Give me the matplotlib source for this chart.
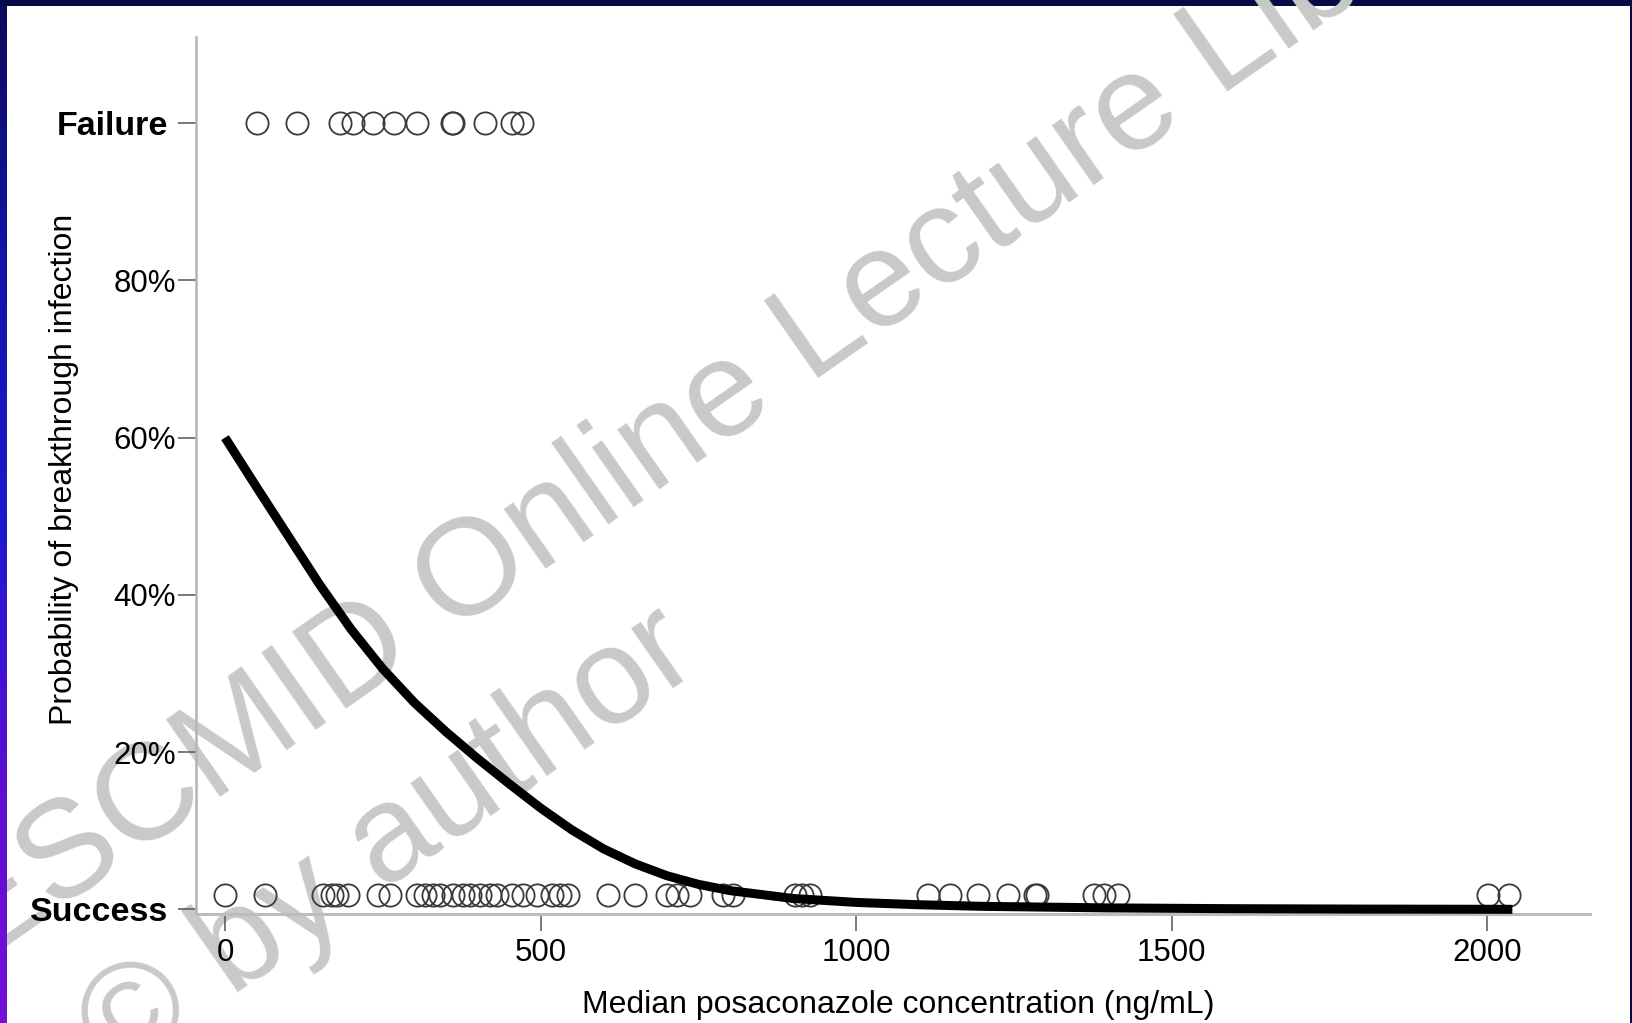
import matplotlib.pyplot as plt
import numpy as np
from matplotlib.patches import Rectangle
from matplotlib.colors import LinearSegmentedColormap
from matplotlib.transforms import ScaledTranslation

plt.rcParams['font.family'] = ['Liberation Sans', 'DejaVu Sans']

# observed outcomes (median posaconazole concentration, ng/mL)
failure_conc = [50, 114, 182, 203, 235, 267, 304, 359, 361, 412, 454, 470]
success_conc = [0, 64, 155, 170, 177, 195, 242, 261, 304, 317, 330, 341, 361,
                377, 388, 404, 420, 431, 455, 472, 494, 518, 531, 543, 607,
                650, 700, 716, 737, 789, 805, 903, 914, 927, 1114, 1149, 1193,
                1240, 1283, 1286, 1377, 1393, 1415, 2001, 2034]
failure_level = 1.0
success_level = 0.0185

# fitted probability curve
curve_conc = [0, 50, 100, 150, 200, 250, 300, 350, 400, 450, 500, 550, 600,
              650, 700, 750, 800, 900, 1000, 1100, 1200, 1400, 1600, 1800, 2040]
curve_prob = [0.600, 0.537, 0.475, 0.413, 0.356, 0.306, 0.263, 0.226, 0.192,
              0.160, 0.129, 0.101, 0.077, 0.058, 0.043, 0.032, 0.024, 0.014,
              0.009, 0.006, 0.004, 0.002, 0.001, 0.0005, 0.0002]

y_ticks = [0, 0.2, 0.4, 0.6, 0.8, 1.0]
y_labels = ['Success', '20%', '40%', '60%', '80%', 'Failure']
x_ticks = [0, 500, 1000, 1500, 2000]

W, H = 1633, 1023
fig = plt.figure(figsize=(W / 100, H / 100), dpi=100)
fig.patch.set_facecolor('#070b45')
fig.add_artist(Rectangle((7 / W, 0), (1630 - 7) / W, 1 - 6 / H,
                         transform=fig.transFigure, facecolor='white',
                         edgecolor='none', zorder=-10))

# gradient strip on the left edge
strip = fig.add_axes([0, 0, 7 / W, 1 - 6 / H])
cmap = LinearSegmentedColormap.from_list(
    'edge', ['#0a0b5c', '#1414a8', '#1a18cc', '#5a0ed2', '#7410d4'])
strip.imshow(np.linspace(0, 1, 256).reshape(-1, 1), aspect='auto', cmap=cmap)
strip.axis('off')

# watermark
wm = dict(rotation=35, rotation_mode='anchor', ha='left', va='baseline',
          fontsize=99.5, color='#c9c9c9', zorder=-5)
fig.text(-22 / W, 1 - 966 / H, 'ESCMID Online Lecture Library', **wm)
fig.text(116 / W, 1 - 1078 / H, '\u00a9 by author', **wm)

ax = fig.add_axes([196 / W, 1 - 914.2 / H, (1590 - 196) / W, (914.2 - 36.5) / H])
ax.patch.set_facecolor('none')

ax.plot(failure_conc, [failure_level] * len(failure_conc), 'o', ms=16,
        mfc='none', mec='#3a3a3a', mew=1.3, zorder=3)
ax.plot(success_conc, [success_level] * len(success_conc), 'o', ms=16,
        mfc='none', mec='#3a3a3a', mew=1.3, zorder=3)
ax.plot(curve_conc, curve_prob, color='black', lw=6.5, solid_capstyle='butt',
        solid_joinstyle='round', zorder=4)

ax.set_xlim(-46, 2163)
ax.set_ylim(-0.006, 1.11)

for s in ['top', 'right']:
    ax.spines[s].set_visible(False)
ax.spines['left'].set_color('#b4b4b4')
ax.spines['left'].set_linewidth(1.8)
ax.spines['bottom'].set_color('#bcbcbc')
ax.spines['bottom'].set_linewidth(2.2)

ax.set_yticks(y_ticks)
ax.set_yticklabels(y_labels, fontsize=22.5)
ax.set_xticks(x_ticks)
ax.set_xticklabels([str(v) for v in x_ticks], fontsize=22.5)
ax.tick_params(axis='y', length=13, width=1.1, color='#555555', pad=1.5)
ax.tick_params(axis='x', length=12, width=1.1, color='#555555', pad=5)

# bold outcome labels sit a little further from their ticks
shift = ScaledTranslation(-5.5 / 72, 0, fig.dpi_scale_trans)
for lbl in ax.get_yticklabels():
    if lbl.get_text() in ('Success', 'Failure'):
        lbl.set_fontweight('bold')
        lbl.set_fontsize(24.5)
        lbl.set_transform(lbl.get_transform() + shift)

ax.set_xlabel('Median posaconazole concentration (ng/mL)', fontsize=23)
ax.xaxis.set_label_coords(0.504, -0.086)
ax.set_ylabel('Probability of breakthrough infection', fontsize=23)
ax.yaxis.set_label_coords(-0.084, 0.507)

fig.savefig('out.png', dpi=100, facecolor=fig.get_facecolor())
